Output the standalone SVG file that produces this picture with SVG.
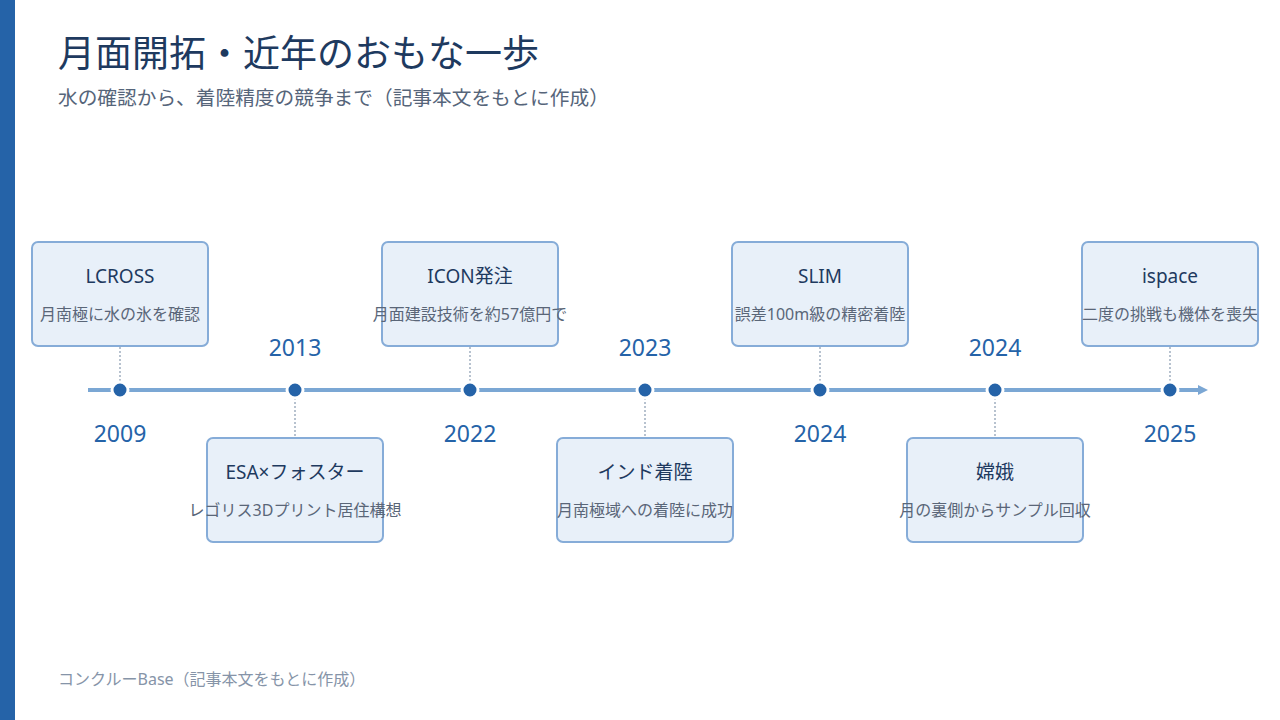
<svg xmlns="http://www.w3.org/2000/svg" width="1280" height="720" viewBox="0 0 1280 720">
<defs>
<style>
text{font-family:"Noto Sans","Noto Sans CJK JP",sans-serif}
.title{font-size:37px;fill:#1e3a5f}
.sub{font-size:19.7px;fill:#56657a}
.foot{font-size:16px;fill:#8694a8}
.box{fill:#e8f0f9;stroke:#86acd8;stroke-width:2}
.bt{font-size:19px;fill:#1e3a5f;text-anchor:middle}
.bs{font-size:16px;fill:#5a6678;text-anchor:middle}
.yr{font-size:23px;fill:#2563a8;text-anchor:middle}
.dot{fill:#2563a8;stroke:#ffffff;stroke-width:3}
.conn{stroke:#a0aec0;stroke-width:1.5;stroke-dasharray:2 2;fill:none}
</style>
<marker id="arr" markerWidth="10" markerHeight="10" refX="2" refY="5" orient="auto" markerUnits="userSpaceOnUse">
<path d="M0,0 L10,5 L0,10 Z" fill="#7ba7d4"/>
</marker>
</defs>
<rect x="0" y="0" width="1280" height="720" fill="#ffffff"/>
<rect x="0" y="0" width="15" height="720" fill="#2563a8"/>
<text class="title" x="58" y="67">月面開拓・近年のおもな一歩</text>
<text class="sub" x="58" y="105">水の確認から、着陸精度の競争まで（記事本文をもとに作成）</text>
<g id="connectors">
<line x1="88" y1="390" x2="1200" y2="390" stroke="#7ba7d4" stroke-width="4" marker-end="url(#arr)"/>
<line class="conn" x1="120" y1="347" x2="120" y2="382"/>
<line class="conn" x1="295" y1="398" x2="295" y2="437"/>
<line class="conn" x1="470" y1="347" x2="470" y2="382"/>
<line class="conn" x1="645" y1="398" x2="645" y2="437"/>
<line class="conn" x1="820" y1="347" x2="820" y2="382"/>
<line class="conn" x1="995" y1="398" x2="995" y2="437"/>
<line class="conn" x1="1170" y1="347" x2="1170" y2="382"/>
</g>
<g id="n2009">
<rect class="box" x="32" y="242" width="176" height="104" rx="6"/>
<text class="bt" x="120" y="283">LCROSS</text>
<text class="bs" x="120" y="320">月南極に水の氷を確認</text>
<circle class="dot" cx="120" cy="390" r="8"/>
<text class="yr" x="120" y="442">2009</text>
</g>
<g id="n2013">
<rect class="box" x="207" y="438" width="176" height="104" rx="6"/>
<text class="bt" x="295" y="479">ESA×フォスター</text>
<text class="bs" x="295" y="516">レゴリス3Dプリント居住構想</text>
<circle class="dot" cx="295" cy="390" r="8"/>
<text class="yr" x="295" y="356">2013</text>
</g>
<g id="n2022">
<rect class="box" x="382" y="242" width="176" height="104" rx="6"/>
<text class="bt" x="470" y="283">ICON発注</text>
<text class="bs" x="470" y="320">月面建設技術を約57億円で</text>
<circle class="dot" cx="470" cy="390" r="8"/>
<text class="yr" x="470" y="442">2022</text>
</g>
<g id="n2023">
<rect class="box" x="557" y="438" width="176" height="104" rx="6"/>
<text class="bt" x="645" y="479">インド着陸</text>
<text class="bs" x="645" y="516">月南極域への着陸に成功</text>
<circle class="dot" cx="645" cy="390" r="8"/>
<text class="yr" x="645" y="356">2023</text>
</g>
<g id="n2024a">
<rect class="box" x="732" y="242" width="176" height="104" rx="6"/>
<text class="bt" x="820" y="283">SLIM</text>
<text class="bs" x="820" y="320">誤差100m級の精密着陸</text>
<circle class="dot" cx="820" cy="390" r="8"/>
<text class="yr" x="820" y="442">2024</text>
</g>
<g id="n2024b">
<rect class="box" x="907" y="438" width="176" height="104" rx="6"/>
<text class="bt" x="995" y="479">嫦娥</text>
<text class="bs" x="995" y="516">月の裏側からサンプル回収</text>
<circle class="dot" cx="995" cy="390" r="8"/>
<text class="yr" x="995" y="356">2024</text>
</g>
<g id="n2025">
<rect class="box" x="1082" y="242" width="176" height="104" rx="6"/>
<text class="bt" x="1170" y="283">ispace</text>
<text class="bs" x="1170" y="320">二度の挑戦も機体を喪失</text>
<circle class="dot" cx="1170" cy="390" r="8"/>
<text class="yr" x="1170" y="442">2025</text>
</g>
<text class="foot" x="58" y="685">コンクルーBase（記事本文をもとに作成）</text>
</svg>
